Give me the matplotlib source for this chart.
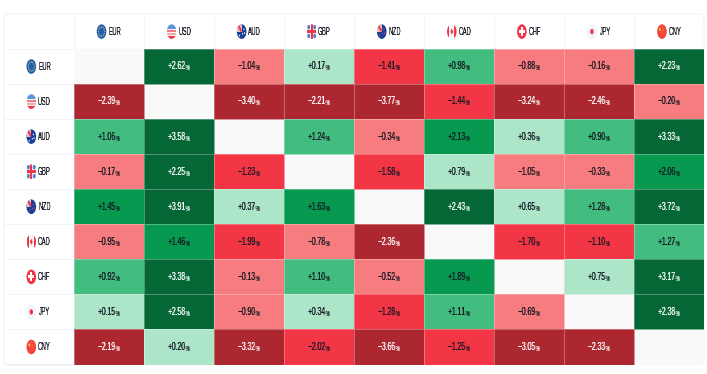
import numpy as np
import matplotlib
matplotlib.use("Agg")
import matplotlib.pyplot as plt
from matplotlib.colors import ListedColormap, BoundaryNorm
from matplotlib.patches import Circle, FancyBboxPatch, Rectangle, Polygon
from matplotlib.transforms import Affine2D

currencies = ["EUR", "USD", "AUD", "GBP", "NZD", "CAD", "CHF", "JPY", "CNY"]
n = np.nan
eur = [n, 2.62, -1.04, 0.17, -1.41, 0.98, -0.88, -0.16, 2.23]
usd = [-2.39, n, -3.40, -2.21, -3.77, -1.44, -3.24, -2.46, -0.20]
aud = [1.06, 3.58, n, 1.24, -0.34, 2.13, 0.36, 0.90, 3.33]
gbp = [-0.17, 2.25, -1.23, n, -1.58, 0.79, -1.05, -0.33, 2.06]
nzd = [1.45, 3.91, 0.37, 1.63, n, 2.43, 0.65, 1.28, 3.72]
cad = [-0.95, 1.46, -1.99, -0.78, -2.36, n, -1.70, -1.10, 1.27]
chf = [0.92, 3.38, -0.13, 1.10, -0.52, 1.89, n, 0.75, 3.17]
jpy = [0.15, 2.58, -0.90, 0.34, -1.28, 1.11, -0.69, n, 2.38]
cny = [-2.19, 0.20, -3.32, -2.02, -3.66, -1.25, -3.05, -2.33, n]
values = np.array([eur, usd, aud, gbp, nzd, cad, chf, jpy, cny])

bin_edges = [-10, -2.1, -1.07, 0, 0.85, 1.35, 2.2, 10]
bin_colors = ["#AD2731", "#F23645", "#F77C80", "#ACE5C8", "#42BD7F", "#089950", "#056636"]
text_colors = ["white", "#131722", "#131722", "#131722", "#131722", "#131722", "white"]

W, H = 707, 374
plt.rcParams["font.family"] = ["Liberation Sans", "DejaVu Sans"]
plt.rcParams["mathtext.default"] = "regular"
fig = plt.figure(figsize=(W / 100, H / 100), dpi=100, facecolor="white")


def squash(factor, rgb):
    """Agg filter: compress a rendered text horizontally about its centre."""
    colour = np.array(matplotlib.colors.to_rgb(rgb))

    def _f(img, dpi):
        h, w = img.shape[:2]
        nw = max(1, int(round(w * factor)))
        xs = (np.arange(nw) + 0.5) / factor - 0.5
        out = np.zeros((h, nw, 4), dtype=float)
        out[..., :3] = colour
        for y in range(h):
            out[y, :, 3] = np.interp(xs, np.arange(w), img[y, :, 3])
        out[..., 3] = np.clip(out[..., 3] * 1.15, 0, 1) ** 0.62
        return out, (w - nw) // 2, 0
    return _f


def pix_axes(x0, x1, y0, y1):
    return fig.add_axes([x0 / W, 1 - y1 / H, (x1 - x0) / W, (y1 - y0) / H])


bg = pix_axes(0, W, 0, H)
bg.set_xlim(0, W); bg.set_ylim(H, 0); bg.axis("off")
bg.add_patch(FancyBboxPatch((4, 14), 700, 350.5, boxstyle="round,pad=0,rounding_size=4",
                            fc="white", ec="#F0F3FA", lw=0.8))

X0, X1, Y0, Y1 = 73.5, 704, 49, 364.5
bg.add_patch(Rectangle((X0, Y0), X1 - X0, Y1 - Y0, fc="#F9F9F9", ec="none"))

ax = pix_axes(X0, X1, Y0, Y1)
cmap = ListedColormap(bin_colors)
norm = BoundaryNorm(bin_edges, cmap.N)
ax.pcolormesh(np.ma.masked_invalid(values), cmap=cmap, norm=norm,
              edgecolors=(1, 1, 1, 0.3), linewidth=0.7)
ax.set_ylim(len(currencies), 0)
ax.set_xlim(0, len(currencies))
ax.axis("off")
bg.set_zorder(1); ax.set_zorder(2)

for r, row in enumerate(values):
    for c, v in enumerate(row):
        if np.isnan(v):
            continue
        col = text_colors[np.searchsorted(bin_edges, v) - 1]
        label = "$" + f"{v:+.2f}" + r"_{\%}$"
        t = ax.text(c + 0.507, r + 0.5, label, ha="center", va="center", color=col, fontsize=8.0)
        t.set_agg_filter(squash(0.63, col))


def flag(cx, cy, name):
    tr = Affine2D().scale(4.8, 7.3).translate(cx, cy) + bg.transData

    def add(p, clip=None):
        bg.add_patch(p)
        p.set_transform(tr)
        if clip is not None:
            p.set_clip_path(clip)
        return p

    def base(colr):
        return add(Circle((0, 0), 1, fc=colr, ec="none"))

    def rect(x, y, w, h, colr, clip):
        return add(Rectangle((x, y), w, h, fc=colr, ec="none"), clip)

    def dot(x, y, s, colr):
        return add(Circle((x, y), s, fc=colr, ec="none"))

    if name == "EUR":
        base("#1F5FB4")
        for a in np.radians(np.arange(0, 360, 30)):
            dot(0.62 * np.cos(a), 0.62 * np.sin(a), 0.1, "#E3C84A")
    elif name == "USD":
        c = base("#F2F3F7")
        rect(-1, -1, 2, 0.7, "#5E94DA", c)
        rect(-1, -0.2, 2, 0.26, "#F77C80", c)
        rect(-1, 0.25, 2, 0.2, "#F9A8AA", c)
        rect(-1, 0.62, 2, 0.4, "#F23645", c)
    elif name in ("AUD", "NZD"):
        c = base("#16409A")
        rect(-1, -1, 1, 1, "#EAC4CC", c)
        add(Polygon([(-1, -1), (-0.6, -1), (0, -0.3), (0, 0), (-0.3, 0)], fc="#F23645", ec="none"), c)
        colr = "white" if name == "AUD" else "#F23645"
        for x, y in ((0.45, -0.3), (0.2, 0.3), (0.6, 0.2), (-0.45, 0.55)):
            dot(x, y, 0.12, colr)
    elif name == "GBP":
        c = base("#E8ECF4")
        for a, b in ((-0.62, -0.62), (0.62, -0.62), (-0.62, 0.62), (0.62, 0.62)):
            dot(a, b, 0.3, "#5B7BC4")
        rect(-0.2, -1, 0.4, 2, "#F23645", c)
        rect(-1, -0.17, 2, 0.34, "#F23645", c)
    elif name == "CAD":
        c = base("#F7F8FB")
        rect(-1, -1, 0.45, 2, "#F23645", c)
        rect(0.55, -1, 0.45, 2, "#F23645", c)
        add(Polygon([(0, -0.42), (0.3, 0), (0, 0.42), (-0.3, 0)], fc="#F23645", ec="none"))
    elif name == "CHF":
        c = base("#F23645")
        rect(-0.22, -0.6, 0.44, 1.2, "white", c)
        rect(-0.62, -0.2, 1.24, 0.4, "white", c)
    elif name == "JPY":
        base("#F0F3FA")
        dot(0, 0, 0.36, "#F23645")
    elif name == "CNY":
        base("#F2453D")
        dot(-0.4, -0.28, 0.2, "#F5C33B")
        for x, y in ((0.1, -0.6), (0.25, -0.25), (0.15, 0.05)):
            dot(x, y, 0.08, "#F5C33B")


edges_x = np.linspace(X0, X1, len(currencies) + 1)
edges_y = np.linspace(Y0, Y1, len(currencies) + 1)
HEAD_Y = 31.6
LABEL = "#131722"
for i, cur in enumerate(currencies):
    cx = (edges_x[i] + edges_x[i + 1]) / 2
    flag(cx - 7.0, HEAD_Y, cur)
    t = bg.text(cx + 6.3, HEAD_Y, cur, ha="center", va="center", fontsize=7.6, color=LABEL)
    t.set_agg_filter(squash(0.56, LABEL))
    cy = (edges_y[i] + edges_y[i + 1]) / 2
    flag(31.3, cy, cur)
    t = bg.text(44.7, cy, cur, ha="center", va="center", fontsize=7.6, color=LABEL)
    t.set_agg_filter(squash(0.56, LABEL))

for x in edges_x[:-1]:
    bg.plot([x, x], [14, Y0], color="#F0F3FA", lw=0.7)
for y in edges_y:
    bg.plot([4, X0], [y, y], color="#F0F3FA", lw=0.7)
bg.plot([X0, X1], [Y0, Y0], color="#F0F3FA", lw=0.7)

fig.savefig("out.png", dpi=100)
